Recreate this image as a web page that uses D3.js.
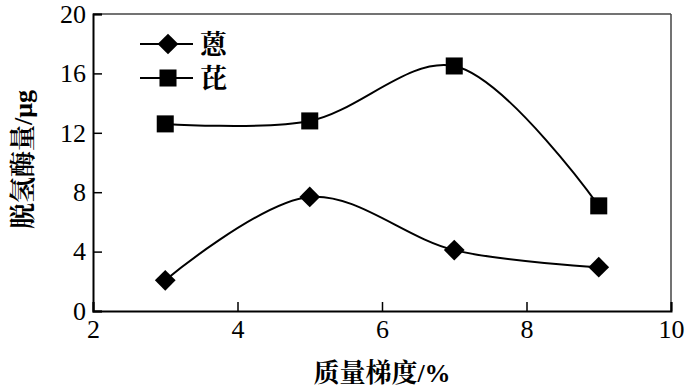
<!DOCTYPE html>
<html>
<head>
<meta charset="utf-8">
<script src="https://cdn.jsdelivr.net/npm/d3@7"></script>
<style>
  body { margin: 0; background: #fff; }
  svg text { fill: #000; }
</style>
</head>
<body>
<div id="chart"></div>
<script>
const xValues = [3, 5, 7, 9];
const anthracene = [2.07, 7.68, 4.1, 2.95];   // 蒽
const pyrene = [12.6, 12.8, 16.5, 7.08];      // 芘
const xTicks = [2, 4, 6, 8, 10];
const yTicks = [0, 4, 8, 12, 16, 20];
const seriesNames = ['蒽', '芘'];

const W = 700, H = 387;
const margin = {top: 14, right: 29, bottom: 76, left: 93};
const width = W - margin.left - margin.right;
const height = H - margin.top - margin.bottom;

const svg = d3.select('#chart')
  .append('svg')
    .attr('width', W)
    .attr('height', H);

const g = svg.append('g')
  .attr('transform', `translate(${margin.left},${margin.top})`);

const x = d3.scaleLinear().domain([2, 10]).range([0, width]);
const y = d3.scaleLinear().domain([0, 20]).range([height, 0]);

const numFont = '"Liberation Serif", "Times New Roman", serif';
const cjkFont = '"Liberation Serif", "Noto Serif CJK SC", "Noto Sans CJK SC", serif';

// frame: top and right lighter
g.append('line')
  .attr('x1', 0).attr('x2', width).attr('y1', 0).attr('y2', 0)
  .attr('stroke', '#444').attr('stroke-width', 1.5);
g.append('line')
  .attr('x1', width).attr('x2', width).attr('y1', 0).attr('y2', height)
  .attr('stroke', '#444').attr('stroke-width', 1.5);

// bottom axis, ticks pointing inward
const xAxis = g.append('g')
  .attr('transform', `translate(0,${height})`)
  .call(d3.axisBottom(x).tickValues(xTicks).tickSize(-9).tickPadding(9).tickFormat(d3.format('d')));
xAxis.select('.domain').attr('stroke-width', 2);
xAxis.selectAll('.tick line').attr('stroke-width', 1.5);
xAxis.selectAll('text')
  .style('font-family', numFont).style('font-size', '26px').attr('fill', '#000');

// left axis
const yAxis = g.append('g')
  .call(d3.axisLeft(y).tickValues(yTicks).tickSize(-9).tickPadding(7).tickFormat(d3.format('d')));
yAxis.select('.domain').attr('stroke-width', 2);
yAxis.selectAll('.tick line').attr('stroke-width', 1.5);
yAxis.selectAll('text')
  .style('font-family', numFont).style('font-size', '26px').attr('fill', '#000');

// axis titles
svg.append('text')
  .attr('x', margin.left + width / 2)
  .attr('y', 382)
  .attr('text-anchor', 'middle')
  .style('font-family', cjkFont)
  .style('font-size', '26px')
  .style('font-weight', 'bold')
  .text('质量梯度/%');

svg.append('text')
  .attr('transform', `translate(32,${margin.top + height / 2 - 3}) rotate(-90)`)
  .attr('text-anchor', 'middle')
  .style('font-family', cjkFont)
  .style('font-size', '26px')
  .style('font-weight', 'bold')
  .text('脱氢酶量/μg');

// curves
const line = d3.line()
  .x(d => x(d[0]))
  .y(d => y(d[1]))
  .curve(d3.curveCatmullRom.alpha(0.5));

const seriesList = [
  {name: seriesNames[0], values: anthracene, symbol: d3.symbolSquare, size: 215, rot: 45},
  {name: seriesNames[1], values: pyrene, symbol: d3.symbolSquare, size: 290, rot: 0},
];

seriesList.forEach(s => {
  const pts = xValues.map((xv, i) => [xv, s.values[i]]);
  g.append('path')
    .datum(pts)
    .attr('fill', 'none')
    .attr('stroke', '#000')
    .attr('stroke-width', 2)
    .attr('d', line);

  const sym = d3.symbol().type(s.symbol).size(s.size);
  g.selectAll(null)
    .data(pts)
    .enter()
    .append('path')
      .attr('d', sym)
      .attr('transform', d => `translate(${x(d[0])},${y(d[1])}) rotate(${s.rot})`)
      .attr('fill', '#000');
});

// legend
const legend = g.append('g').attr('transform', 'translate(47,30)');
seriesList.forEach((s, i) => {
  const row = legend.append('g').attr('transform', `translate(0,${i * 34})`);
  row.append('line')
    .attr('x1', 0).attr('x2', 53)
    .attr('stroke', '#000').attr('stroke-width', 2);
  row.append('path')
    .attr('d', d3.symbol().type(s.symbol).size(s.size)())
    .attr('transform', `translate(28,0) rotate(${s.rot})`)
    .attr('fill', '#000');
  row.append('text')
    .attr('x', 60)
    .attr('y', 0)
    .attr('dy', '0.36em')
    .style('font-family', cjkFont)
    .style('font-size', '27px')
    .style('font-weight', 'bold')
    .text(s.name);
});
</script>
</body>
</html>
